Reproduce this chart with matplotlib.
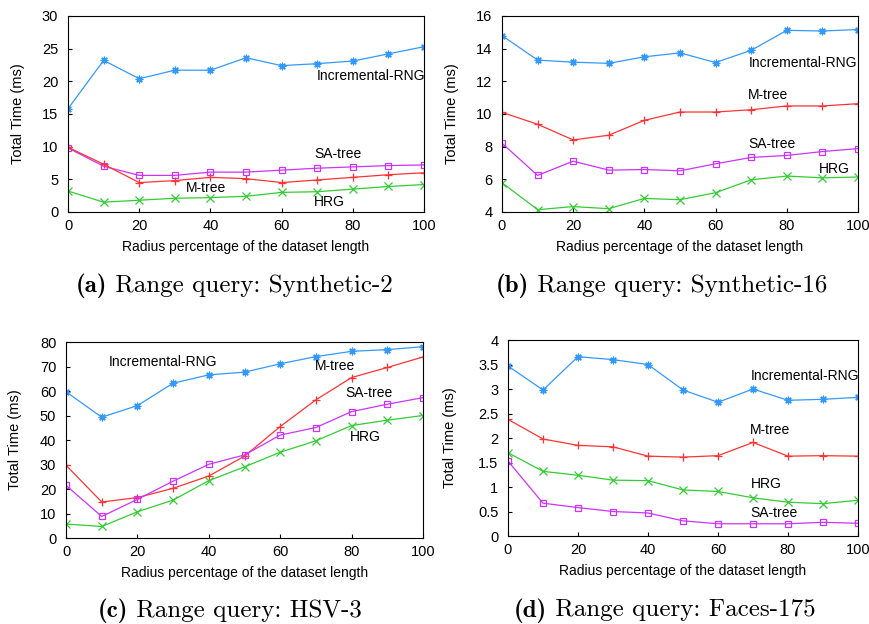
import matplotlib
matplotlib.use("Agg")
import matplotlib.pyplot as plt
from matplotlib.ticker import FuncFormatter


# Radius percentages (shared x values)
radius = [0, 10, 20, 30, 40, 50, 60, 70, 80, 90, 100]

# (a) Synthetic-2
syn2_rng = [15.8, 23.2, 20.4, 21.7, 21.7, 23.6, 22.4, 22.7, 23.1, 24.2, 25.3]
syn2_mtree = [9.9, 7.3, 4.5, 4.8, 5.3, 5.1, 4.5, 4.9, 5.3, 5.7, 6.0]
syn2_satree = [9.8, 7.0, 5.6, 5.6, 6.1, 6.1, 6.4, 6.7, 6.9, 7.1, 7.2]
syn2_hrg = [3.2, 1.5, 1.8, 2.1, 2.2, 2.4, 3.0, 3.1, 3.5, 3.9, 4.2]

# (b) Synthetic-16
syn16_rng = [14.8, 13.3, 13.17, 13.1, 13.5, 13.74, 13.15, 13.9, 15.12, 15.08, 15.17]
syn16_mtree = [10.1, 9.37, 8.41, 8.7, 9.61, 10.12, 10.12, 10.26, 10.49, 10.49, 10.63]
syn16_satree = [8.21, 6.24, 7.11, 6.56, 6.6, 6.52, 6.95, 7.34, 7.46, 7.7, 7.88]
syn16_hrg = [5.79, 4.14, 4.33, 4.2, 4.83, 4.75, 5.18, 5.97, 6.2, 6.09, 6.14]

# (c) HSV-3
hsv_rng = [59.7, 49.3, 54.05, 63.2, 66.6, 67.7, 71.1, 74.05, 76.2, 76.9, 78.1]
hsv_mtree = [29.7, 14.7, 16.5, 20.3, 25.3, 33.4, 45.5, 56.4, 65.5, 69.6, 73.9]
hsv_satree = [21.5, 8.8, 15.8, 23.2, 30.1, 33.9, 42.0, 45.1, 51.6, 54.6, 57.3]
hsv_hrg = [5.7, 4.7, 10.7, 15.5, 23.4, 29.05, 35.0, 39.7, 45.9, 48.1, 50.0]

# (d) Faces-175
faces_rng = [3.47, 2.98, 3.66, 3.6, 3.5, 2.98, 2.73, 3.0, 2.77, 2.79, 2.83]
faces_mtree = [2.38, 1.98, 1.85, 1.82, 1.63, 1.61, 1.64, 1.91, 1.63, 1.64, 1.63]
faces_hrg = [1.7, 1.32, 1.24, 1.14, 1.13, 0.94, 0.91, 0.78, 0.69, 0.66, 0.73]
faces_satree = [1.53, 0.67, 0.58, 0.5, 0.47, 0.31, 0.25, 0.25, 0.25, 0.28, 0.26]

# series style: colour, marker (gnuplot-like point types)
styles = {
    "Incremental-RNG": ("#3399ff", (8, 2, 0)),
    "M-tree": ("#ff3333", "+"),
    "SA-tree": ("#cc33ff", "s"),
    "HRG": ("#33cc33", "x"),
}

plt.rcParams["font.family"] = ["Liberation Sans", "DejaVu Sans"]
plt.rcParams["font.size"] = 10


def draw_panel(ax, series, labels, ylim, yticks, ylabel_x, caption, caption_xy, fig):
    for name, values in series.items():
        color, marker = styles[name]
        if marker == "s":
            ax.plot(radius, values, color=color, lw=0.9, marker=marker,
                    markersize=4.5, markerfacecolor="none", markeredgewidth=0.9)
        else:
            ax.plot(radius, values, color=color, lw=0.9, marker=marker,
                    markersize=5.5, markeredgewidth=0.9)
    for name, (tx, ty) in labels.items():
        ax.text(tx, ty, name, fontsize=10, ha="left", va="center")
    ax.set_xlim(0, 100)
    ax.set_ylim(*ylim)
    ax.set_xticks([0, 20, 40, 60, 80, 100])
    ax.set_yticks(yticks)
    ax.yaxis.set_major_formatter(FuncFormatter(lambda v, p: "%g" % v))
    ax.tick_params(direction="in", length=3, labelsize=10.5)
    ax.tick_params(axis="y", pad=7)
    ax.tick_params(axis="x", pad=5)
    ax.set_xlabel("Radius percentage of the dataset length", fontsize=10, labelpad=5)
    ax.set_ylabel("Total Time (ms)", fontsize=10.5)
    ax.yaxis.set_label_coords(ylabel_x, 0.5)
    for sp in ax.spines.values():
        sp.set_linewidth(0.8)
    # caption: bold "(x)" followed by the plain title
    fig.text(caption_xy[0], caption_xy[1], caption[0], fontsize=18,
             family="cmb10", ha="right", va="center")
    fig.text(caption_xy[0], caption_xy[1], " " + caption[1], fontsize=18,
             family="cmr10", ha="left", va="center")


fig = plt.figure(figsize=(8.7, 6.24), dpi=100)
ax_a = fig.add_axes([0.0782, 0.6603, 0.4092, 0.3141])
ax_b = fig.add_axes([0.577, 0.6603, 0.4092, 0.3141])
ax_c = fig.add_axes([0.0759, 0.1378, 0.4103, 0.3141])
ax_d = fig.add_axes([0.5839, 0.141, 0.4023, 0.3141])

draw_panel(ax_a,
           {"Incremental-RNG": syn2_rng, "SA-tree": syn2_satree,
            "M-tree": syn2_mtree, "HRG": syn2_hrg},
           {"Incremental-RNG": (69.8, 20.8), "SA-tree": (69.3, 8.9),
            "M-tree": (33, 3.7), "HRG": (69, 1.6)},
           (0, 30), [0, 5, 10, 15, 20, 25, 30], -0.121,
           ("(a)", "Range query: Synthetic-2"), (0.123, 0.542), fig)

draw_panel(ax_b,
           {"Incremental-RNG": syn16_rng, "M-tree": syn16_mtree,
            "SA-tree": syn16_satree, "HRG": syn16_hrg},
           {"Incremental-RNG": (69.3, 13.13), "M-tree": (69.1, 11.16),
            "SA-tree": (69.1, 8.15), "HRG": (89, 6.62)},
           (4, 16), [4, 6, 8, 10, 12, 14, 16], -0.121,
           ("(b)", "Range query: Synthetic-16"), (0.608, 0.542), fig)

draw_panel(ax_c,
           {"Incremental-RNG": hsv_rng, "M-tree": hsv_mtree,
            "SA-tree": hsv_satree, "HRG": hsv_hrg},
           {"Incremental-RNG": (12, 71.9), "M-tree": (69.8, 70.1),
            "SA-tree": (78.2, 59.3), "HRG": (79.6, 41.2)},
           (0, 80), [0, 10, 20, 30, 40, 50, 60, 70, 80], -0.123,
           ("(c)", "Range query: HSV-3"), (0.147, 0.022), fig)

draw_panel(ax_d,
           {"Incremental-RNG": faces_rng, "M-tree": faces_mtree,
            "HRG": faces_hrg, "SA-tree": faces_satree},
           {"Incremental-RNG": (69.5, 3.26), "M-tree": (69.2, 2.16),
            "HRG": (69.5, 1.07), "SA-tree": (69.2, 0.47)},
           (0, 4), [0, 0.5, 1, 1.5, 2, 2.5, 3, 3.5, 4], -0.146,
           ("(d)", "Range query: Faces-175"), (0.629, 0.022), fig)

fig.savefig("out.png", dpi=100)
